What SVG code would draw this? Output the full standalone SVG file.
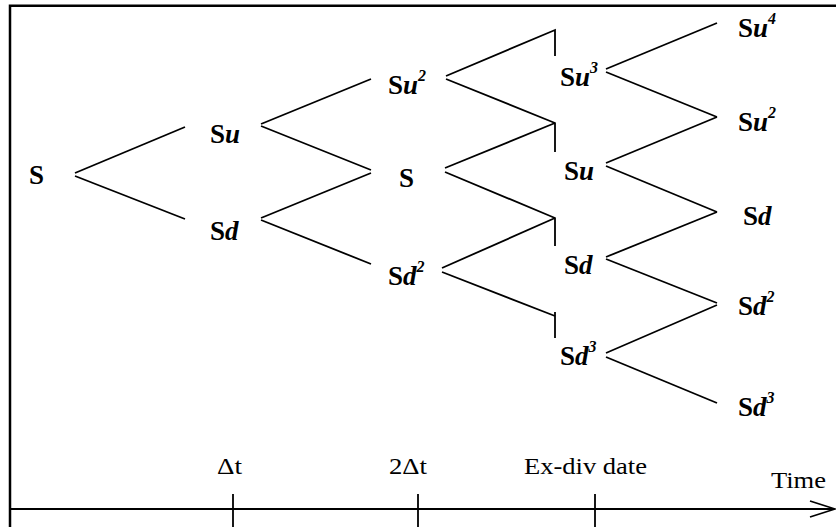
<svg xmlns="http://www.w3.org/2000/svg" width="836" height="527" viewBox="0 0 836 527">
  <style>
    .frame { fill: none; stroke: #000; stroke-width: 2.5; }
    .edge { stroke: #000; stroke-width: 1.8; fill: none; stroke-linecap: butt; }
    .node { font-family: "Liberation Serif", "Times New Roman", serif; font-size: 27px; font-weight: bold; fill: #000; }
    .node .v { font-style: italic; }
    .node .sup { font-style: italic; font-size: 16px; }
    .tlabel { font-family: "Liberation Serif", "Times New Roman", serif; font-size: 24px; fill: #000; }
  </style>

  <rect class="frame" x="10" y="5.75" width="840" height="540"/>

  <!-- tree branches -->
  <g id="connectors" class="edge">
    <!-- step 0 to 1 -->
    <path d="M75,173 L185,127"/>
    <path d="M75,176 L185,219"/>
    <!-- step 1 to 2 -->
    <path d="M261,124 L371,79"/>
    <path d="M261,126 L371,170"/>
    <path d="M261,218 L371,173"/>
    <path d="M261,220 L371,264"/>
    <!-- step 2 to ex-dividend date, with the dividend drop -->
    <path d="M446,76 L555,30 L555,56"/>
    <path d="M446,79 L555,123 L555,152"/>
    <path d="M445,168 L555,123"/>
    <path d="M445,172 L555,218 L555,246"/>
    <path d="M442,268 L555,218"/>
    <path d="M442,272 L555,316"/>
    <path d="M555,312 L555,338"/>
    <!-- ex-dividend date to last step -->
    <path d="M606,69 L717,23"/>
    <path d="M606,72 L717,117"/>
    <path d="M606,163 L717,117"/>
    <path d="M606,166 L717,212"/>
    <path d="M606,257 L717,212"/>
    <path d="M606,259 L717,303"/>
    <path d="M606,353 L717,305"/>
    <path d="M606,357 L717,403"/>
  </g>

  <!-- nodes -->
  <g id="n0" class="node"><text x="29" y="184">S</text></g>

  <g id="n1u" class="node"><text x="210" y="143">S<tspan class="v">u</tspan></text></g>
  <g id="n1d" class="node"><text x="210" y="240">S<tspan class="v">d</tspan></text></g>

  <g id="n2uu" class="node"><text x="388" y="94">S<tspan class="v">u</tspan><tspan class="sup" dy="-13">2</tspan></text></g>
  <g id="n2m" class="node"><text x="399" y="187">S</text></g>
  <g id="n2dd" class="node"><text x="388" y="285">S<tspan class="v">d</tspan><tspan class="sup" dy="-13">2</tspan></text></g>

  <g id="n3u3" class="node"><text x="560" y="86">S<tspan class="v">u</tspan><tspan class="sup" dy="-13">3</tspan></text></g>
  <g id="n3u" class="node"><text x="564" y="180">S<tspan class="v">u</tspan></text></g>
  <g id="n3d" class="node"><text x="564" y="274">S<tspan class="v">d</tspan></text></g>
  <g id="n3d3" class="node"><text x="560" y="365">S<tspan class="v">d</tspan><tspan class="sup" dy="-13">3</tspan></text></g>

  <g id="n4u4" class="node"><text x="738" y="37">S<tspan class="v">u</tspan><tspan class="sup" dy="-13">4</tspan></text></g>
  <g id="n4u2" class="node"><text x="738" y="131">S<tspan class="v">u</tspan><tspan class="sup" dy="-13">2</tspan></text></g>
  <g id="n4d" class="node"><text x="743" y="225">S<tspan class="v">d</tspan></text></g>
  <g id="n4d2" class="node"><text x="738" y="315">S<tspan class="v">d</tspan><tspan class="sup" dy="-13">2</tspan></text></g>
  <g id="n4d3" class="node"><text x="738" y="416">S<tspan class="v">d</tspan><tspan class="sup" dy="-13">3</tspan></text></g>

  <!-- time axis -->
  <g id="axis">
    <path class="edge" d="M10,509 L834,509"/>
    <path class="edge" d="M810,501 L835,509 L810,517"/>
    <path class="edge" d="M233,494 V527 M418,494 V527 M595,494 V527"/>
    <text class="tlabel" x="217" y="474" textLength="25" lengthAdjust="spacingAndGlyphs">Δt</text>
    <text class="tlabel" x="389" y="474" textLength="38" lengthAdjust="spacingAndGlyphs">2Δt</text>
    <text class="tlabel" x="524" y="474" textLength="123" lengthAdjust="spacingAndGlyphs">Ex-div date</text>
    <text class="tlabel" x="771" y="488" textLength="55" lengthAdjust="spacingAndGlyphs">Time</text>
  </g>
</svg>
